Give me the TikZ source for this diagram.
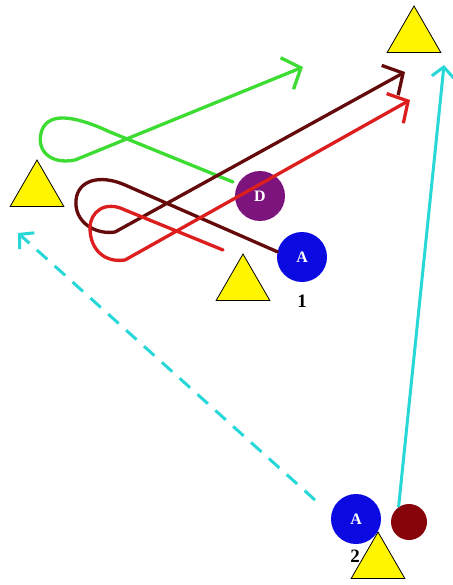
\documentclass[tikz,border=0pt]{standalone}
\usepackage{fontspec}
\setmainfont{Liberation Serif}
\usetikzlibrary{arrows.meta,shapes.geometric}
\definecolor{ygreen}{RGB}{60,220,50}
\definecolor{maroonx}{RGB}{100,10,10}
\definecolor{redx}{RGB}{220,30,30}
\definecolor{cyanx}{RGB}{40,215,215}
\definecolor{purplex}{RGB}{125,20,125}
\definecolor{bluex}{RGB}{10,10,225}
\definecolor{darkredx}{RGB}{135,5,10}
\definecolor{yellowx}{RGB}{255,245,0}
\begin{document}
\begin{tikzpicture}[x=1bp,y=-1bp,
  cone/.style={regular polygon,regular polygon sides=3,minimum size=62bp,inner sep=0pt,
    fill=yellowx,draw=black,line width=0.8bp},
  player/.style={circle,minimum size=50bp,inner sep=0pt,text=white,
    font=\fontsize{16}{16}\selectfont\bfseries},
  lbl/.style={font=\fontsize{19}{19}\selectfont\bfseries},
  run/.style={line width=3.3bp,line cap=round,line join=round,
    -{Straight Barb[length=15bp,width=34bp,line width=3.3bp]}},
  pass/.style={line width=3bp,cyanx,-{Straight Barb[length=10bp,width=22bp,line width=3bp]}}
]
\useasboundingbox (0,0) rectangle (453,585);
\fill[white] (0,0) rectangle (453,585);
% cones
\node[cone] (c1) at (414,37) {};
\node[cone] (c2) at (37,191) {};
\node[cone] (c3) at (243,285) {};
\node[cone] (c4) at (378,563) {};
% players
\node[player,fill=purplex] (d) at (260,196) {D};
\node[player,fill=bluex] (a1) at (302,257) {A};
\node[lbl] (n1) at (302,301) {1};
\node[player,fill=bluex] (a2) at (356,519) {A};
\node[circle,minimum size=36bp,inner sep=0pt,fill=darkredx] (dr) at (409,522) {};
\node[lbl] (n2) at (355,556) {2};
% coordinates
\coordinate (gs) at (233,182);
\coordinate (ge) at (303,67);
\coordinate (me) at (405,72);
\coordinate (rs) at (223,250);
\coordinate (re) at (410,100);
\coordinate (ce) at (444,65);
\coordinate (ds) at (315,500);
\coordinate (de) at (18,233);
% green run
\draw[run,ygreen] (gs) -- (110,132) .. controls (80,118) and (50,110) .. (42,130)
  .. controls (35,150) and (50,165) .. (75,160) -- (ge);
% maroon run
\draw[run,maroonx] (a1.168) -- (125,185) .. controls (100,174) and (78,180) .. (76,200)
  .. controls (74,222) and (95,235) .. (115,232) -- (me);
% red run
\draw[run,redx] (rs) -- (125,210) .. controls (105,200) and (90,212) .. (90,228)
  .. controls (90,250) and (105,263) .. (125,260) -- (re);
% cyan passes
\draw[pass] (dr.125) -- (ce);
\draw[pass,dash pattern=on 14bp off 10bp] (ds) -- (de);
\end{tikzpicture}
\end{document}
